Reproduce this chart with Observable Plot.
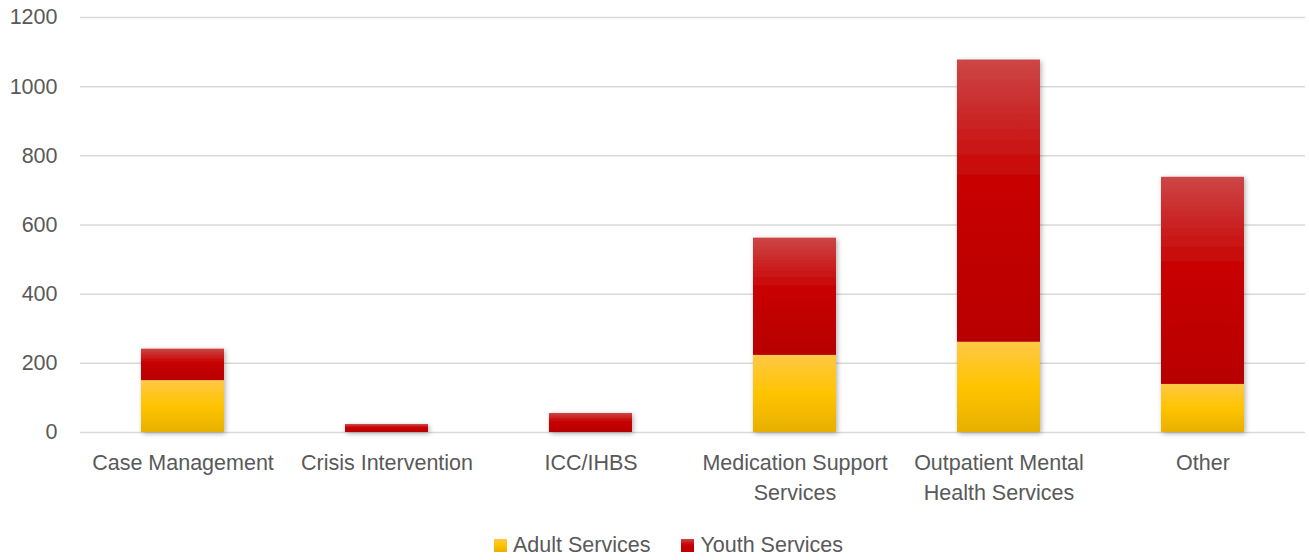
<!DOCTYPE html>
<html>
<head>
<meta charset="utf-8">
<script src="https://cdn.jsdelivr.net/npm/d3@7"></script>
<script src="https://cdn.jsdelivr.net/npm/@observablehq/plot@0.6"></script>
<style>
  html, body { margin: 0; padding: 0; background: #fff; }
  #wrap { position: relative; width: 1309px; height: 560px; font-family: "Liberation Sans", Arial, sans-serif; }
  #legend { position: absolute; left: 494px; top: 534px; display: flex; align-items: center; font-size: 21.5px; color: #595959; line-height: 22px; white-space: nowrap; }
  .item { display: flex; align-items: center; }
  .sw { width: 13px; height: 13px; margin-right: 6px; }
  .gap { width: 31px; }
</style>
</head>
<body>
<div id="wrap">
  <div id="chart"></div>
  <div id="legend"></div>
</div>
<script>
const categories = ["Case Management", "Crisis Intervention", "ICC/IHBS", "Medication Support Services", "Outpatient Mental Health Services", "Other"];
const categoryLabels = ["Case Management", "Crisis Intervention", "ICC/IHBS", "Medication Support\nServices", "Outpatient Mental\nHealth Services", "Other"];
const series = ["Adult Services", "Youth Services"];
const adultValues = [150, 0, 0, 223, 261, 139];
const youthValues = [91, 23, 55, 339, 816, 599];
const yTicks = [0, 200, 400, 600, 800, 1000, 1200];

const data = [];
categories.forEach((c, i) => data.push({category: c, series: series[0], value: adultValues[i]}));
categories.forEach((c, i) => data.push({category: c, series: series[1], value: youthValues[i]}));

const labelOf = new Map(categories.map((c, i) => [c, categoryLabels[i]]));

const W = 1309, H = 515;
const chart = Plot.plot({
  width: W,
  height: H,
  marginTop: 17,
  marginBottom: 83,
  marginLeft: 80,
  marginRight: 4,
  style: {color: "#595959", fontFamily: "'Liberation Sans', Arial, sans-serif", fontSize: "21px", background: "#fff"},
  x: {domain: categories, paddingInner: 0.593, paddingOuter: 0.2965, label: null},
  y: {domain: [0, 1200], label: null},
  color: {domain: series, range: ["url(#gradAdult)", "url(#gradYouth)"]},
  marks: [
    Plot.gridY(yTicks, {stroke: "#d9d9d9", strokeOpacity: 1, strokeWidth: 1.5}),
    Plot.barY(data, {x: "category", y: "value", fill: "series"}),
    Plot.axisY(yTicks, {tickSize: 0, tickPadding: 23, fontSize: 21.5, fill: "#595959", label: null, tickFormat: d => String(d)}),
    Plot.axisX({tickSize: 0, tickPadding: 17, fontSize: 21.5, fill: "#595959", lineHeight: 1.36, tickFormat: d => labelOf.get(d), label: null})
  ]
});

const svg = d3.select(chart);
const defs = svg.insert("defs", ":first-child");
function grad(id, stops) {
  const g = defs.append("linearGradient").attr("id", id).attr("x1", 0).attr("y1", 0).attr("x2", 0).attr("y2", 1);
  stops.forEach(([o, c]) => g.append("stop").attr("offset", o).attr("stop-color", c));
}
grad("gradAdult", [["0%", "#FFC845"], ["50%", "#FFC400"], ["100%", "#E6B000"]]);
grad("gradYouth", [["0%", "#CD4646"], ["45%", "#C80000"], ["100%", "#B80000"]]);
const f = defs.append("filter").attr("id", "shadow").attr("filterUnits", "userSpaceOnUse")
  .attr("x", 0).attr("y", 0).attr("width", W).attr("height", H);
f.append("feDropShadow").attr("dx", 1.5).attr("dy", 1.5).attr("stdDeviation", 2.5)
  .attr("flood-color", "#000").attr("flood-opacity", 0.3);
svg.selectAll("g[aria-label='bar']").attr("filter", "url(#shadow)");

document.getElementById("chart").appendChild(chart);

const legend = d3.select("#legend");
const swatchCss = {
  "Adult Services": "linear-gradient(#FFC845, #FFC400 50%, #E6B000)",
  "Youth Services": "linear-gradient(#CD4646, #C80000 45%, #B80000)"
};
series.forEach((s, i) => {
  if (i > 0) legend.append("div").attr("class", "gap");
  const it = legend.append("div").attr("class", "item");
  it.append("div").attr("class", "sw").style("background", swatchCss[s]);
  it.append("span").text(s);
});
</script>
</body>
</html>
